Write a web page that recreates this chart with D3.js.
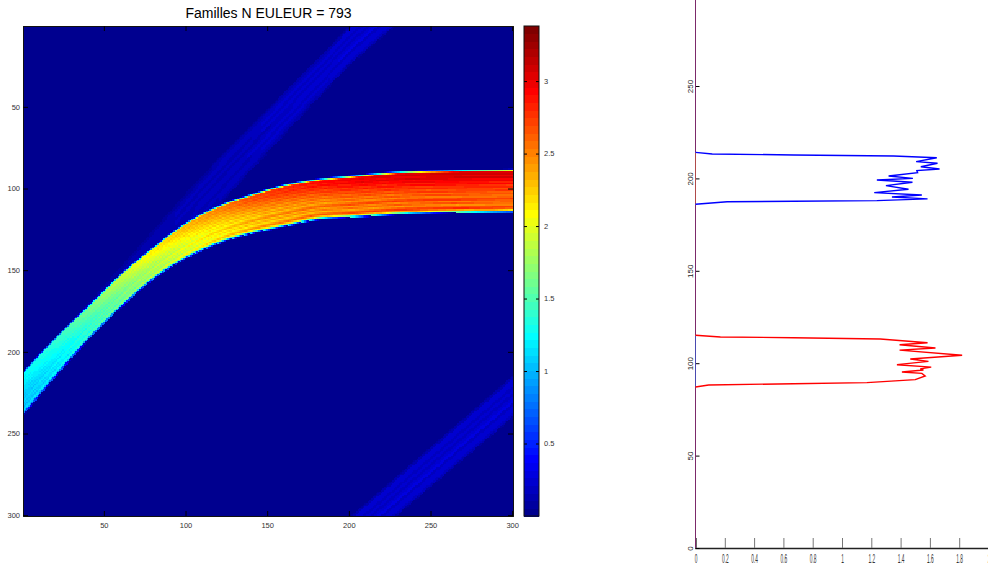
<!DOCTYPE html>
<html><head><meta charset="utf-8">
<script src="https://cdn.jsdelivr.net/npm/d3@7"></script>
<style>html,body{margin:0;padding:0;background:#fff}svg{display:block}text{font-family:"Liberation Sans",Arial,sans-serif}</style>
</head><body><svg id="c" width="988" height="567"></svg>
<script>
const titleText = "Familles N EULEUR = 793";
const imageTicks = [50,100,150,200,250,300];
const barTicks = [0.5,1,1.5,2,2.5,3];
const valueMax = 3.38;
// main band edges (image row) by column
const bandColumns = [1,19,39.5,60,80,100,120,140,160,180,200,230,265,300];
const bandTop     = [212,192.8,173,153,136.4,121.5,111,104,98.3,94.7,92.7,90.2,89.2,88.7];
const bandBottom  = [237.5,216,192.8,172.4,155,142.2,133,127,122.7,118.5,117.2,115.2,114.2,113.6];
// level along main band
const levelColumns = [1,25,50,75,100,125,150,200,250,300];
const levelValues  = [1.25,1.45,1.78,2.1,2.35,2.58,2.78,3.0,3.1,3.1];
// profile across main band, from top edge to bottom edge
const bandProfile = [0.92,0.98,1.0,0.96,1.0,0.94,0.97,0.91,0.95,0.88,0.92,0.85,0.9,0.82,0.88,0.8,0.86,0.9,0.8,0.87,0.78,0.85,0.91,0.76,0.84];
// faint diagonal bands: edge rows by column
const upperColumns = [1,42,69,108,135,200,227];
const upperEdgeA = [240,198,168,124,94,24,1];
const upperEdgeB = [214,168,138,94,67,1,-26];
const lowerColumns = [202,229,300];
const lowerEdgeA = [300,276.6,215];
const lowerEdgeB = [323,300,240];
const faintLevelColumns = [42,120,200,300];
const faintLevelValues = [0.4,0.72,1,1];
const faintProfile = [0.15,0.22,0.26,0.2,0.26,0.19,0.24,0.27,0.2,0.26,0.22,0.17];
// right panel series: [value, row]
const blueSeries = [[0,186],[0.216,187.4],[0.67,187.6],[1.238,188],[1.584,188.9],[1.341,189.9],[1.545,191],[1.22,192.3],[1.454,194.1],[1.3,196.1],[1.481,197.9],[1.238,199.1],[1.484,200],[1.318,201.3],[1.516,203.1],[1.511,204.2],[1.666,205.1],[1.538,206.3],[1.652,208.2],[1.506,209.1],[1.647,211.2],[1.352,212.1],[0.67,212.7],[0.114,213.2],[0,214.1]];
const redSeries = [[0,87.1],[0.09,88.2],[0.67,88.9],[1.17,89.5],[1.5,91.1],[1.568,93.1],[1.545,94.5],[1.409,95.2],[1.556,96.3],[1.534,96.9],[1.609,97.9],[1.375,99.2],[1.59,101],[1.466,102.3],[1.82,104.3],[1.393,107.1],[1.638,108.2],[1.393,110],[1.584,111.1],[1.261,113.1],[0.67,113.8],[0.17,114.2],[0,115.1]];
const zeroRuns = [[0,87.1,"#7c2a6a"],[87.1,115.1,"#4a4ab0"],[115.1,186,"#7c2a6a"],[186,214.1,"#b04a4a"],[214.1,300,"#7c2a6a"]];
const panelXTicks = [0,0.2,0.4,0.6,0.8,1,1.2,1.4,1.6,1.8,2];
const panelYTicks = [0,50,100,150,200,250];

const svg = d3.select("#c");
const jet = t => {
  const c = v => Math.round(255*Math.max(0,Math.min(1,v)));
  const r = 1.5-Math.abs(4*t-3), g = 1.5-Math.abs(4*t-2), b = 1.5-Math.abs(4*t-1);
  return `rgb(${c(r)},${c(g)},${c(b)})`;
};
const quant = v => { const i = Math.min(63,Math.max(0,Math.floor(v/valueMax*64))); return jet((i+1)/64); };
// smooth curve through read stations
const smooth = (xs,ys) => {
  const n=xs.length, m=xs.map((_,i)=> i==0 ? (ys[1]-ys[0])/(xs[1]-xs[0]) : i==n-1 ? (ys[n-1]-ys[n-2])/(xs[n-1]-xs[n-2]) : (ys[i+1]-ys[i-1])/(xs[i+1]-xs[i-1]));
  return q => {
    const i=Math.max(0,Math.min(n-2,d3.bisectRight(xs,q)-1)), h=xs[i+1]-xs[i], s=(q-xs[i])/h;
    const s2=s*s,s3=s2*s;
    return (2*s3-3*s2+1)*ys[i]+(s3-2*s2+s)*h*m[i]+(-2*s3+3*s2)*ys[i+1]+(s3-s2)*h*m[i+1];
  };
};
const clamp01 = v => Math.max(0,Math.min(1,v));

// heat map
const plot = {l:23,t:26,w:490,h:490};
const x = d3.scaleLinear().domain([0.5,300.5]).range([plot.l,plot.l+plot.w]);
const y = d3.scaleLinear().domain([0.5,300.5]).range([plot.t,plot.t+plot.h]);
const topAt = smooth(bandColumns,bandTop);
const botAt = smooth(bandColumns,bandBottom);
const levelAt = smooth(levelColumns,levelValues);
const profileAt = d3.scaleLinear().domain(bandProfile.map((_,i)=>i/(bandProfile.length-1))).range(bandProfile);
const faintAt = d3.scaleQuantize().domain([0,1]).range(faintProfile);
const faintLevel = d3.scaleLinear().domain(faintLevelColumns).range(faintLevelValues).clamp(true);
const upA = d3.scaleLinear().domain(upperColumns).range(upperEdgeA);
const upB = d3.scaleLinear().domain(upperColumns).range(upperEdgeB);
const loA = d3.scaleLinear().domain(lowerColumns).range(lowerEdgeA);
const loB = d3.scaleLinear().domain(lowerColumns).range(lowerEdgeB);

const cells = [];
const faint = (c,r,a,b) => {
  const cov = clamp01(r-a+0.5)*clamp01(b-r+0.5);
  return cov>0 ? faintAt(Math.min(0.999,Math.max(0,(r-a)/(b-a))))*faintLevel(c)*cov : 0;
};
for(let c=1;c<=300;c++){
  const t=topAt(c), b=botAt(c), lev=levelAt(c);
  const rows = new Map();
  if(c<=227){ const a=upB(c), e=upA(c);
    for(let r=Math.max(1,Math.floor(a));r<=Math.min(Math.ceil(t),Math.ceil(e));r++){ const v=faint(c,r,a,e); if(v>0) rows.set(r,v);} }
  if(c>=202){ const a=loA(c), e=loB(c);
    for(let r=Math.floor(a);r<=Math.min(300,Math.ceil(e));r++){ const v=faint(c,r,a,e); if(v>0) rows.set(r,v);} }
  for(let r=Math.floor(t)-1;r<=Math.ceil(b)+1;r++){
    const cov=clamp01((r-t+0.8)/1.6)*clamp01((b-r+0.8)/1.6); if(cov<=0) continue;
    const u=clamp01((r-t)/(b-t));
    const v=lev*profileAt(u)*cov;
    rows.set(r,Math.max(v,rows.get(r)||0));
  }
  rows.forEach((v,r)=>cells.push({c,r,v}));
}
const pw = x(2)-x(1), ph = y(2)-y(1);
const defs = svg.append("defs");
defs.append("clipPath").attr("id","plotClip").append("rect").attr("x",plot.l).attr("y",plot.t).attr("width",plot.w).attr("height",plot.h);
defs.append("filter").attr("id","soft").attr("x","-2%").attr("y","-2%").attr("width","104%").attr("height","104%")
  .append("feGaussianBlur").attr("stdDeviation",0.55);
const clipG = svg.append("g").attr("clip-path","url(#plotClip)");
clipG.append("rect").attr("x",plot.l).attr("y",plot.t).attr("width",plot.w).attr("height",plot.h).attr("fill",quant(0));
const heat = clipG.append("g").attr("filter","url(#soft)");
heat.append("g").attr("shape-rendering","crispEdges").selectAll("rect").data(cells).join("rect")
  .attr("x",d=>x(d.c-0.5)).attr("y",d=>y(d.r-0.5)).attr("width",pw+0.5).attr("height",ph+0.5).attr("fill",d=>quant(d.v));

const tickStyle = g => g.selectAll("text").attr("fill","#333").attr("font-size",7.5);
const gx = svg.append("g").attr("transform",`translate(0,${plot.t+plot.h})`).call(d3.axisBottom(x).tickValues(imageTicks).tickSize(-5).tickPadding(7));
const gy = svg.append("g").attr("transform",`translate(${plot.l},0)`).call(d3.axisLeft(y).tickValues(imageTicks).tickSize(-5).tickPadding(3));
const gxT = svg.append("g").attr("transform",`translate(0,${plot.t})`).call(d3.axisTop(x).tickValues(imageTicks).tickSize(-5).tickFormat(""));
const gyR = svg.append("g").attr("transform",`translate(${plot.l+plot.w},0)`).call(d3.axisRight(y).tickValues(imageTicks).tickSize(-5).tickFormat(""));
[gx,gy,gxT,gyR].forEach(g=>{g.call(tickStyle);g.selectAll("path").attr("stroke","#111").attr("stroke-width",1);g.selectAll("line").attr("stroke","#000");});
svg.append("text").attr("x",268.5).attr("y",18).attr("text-anchor","middle").attr("font-size",14).attr("fill","#000").text(titleText);

// colour bar
const bar = {l:524,w:15};
const cy = d3.scaleLinear().domain([0,valueMax]).range([plot.t+plot.h,plot.t]);
const levels = d3.range(64);
svg.append("g").attr("shape-rendering","crispEdges").selectAll("rect").data(levels).join("rect")
  .attr("x",bar.l).attr("width",bar.w)
  .attr("y",i=>cy((i+1)*valueMax/64)).attr("height",i=>cy(i*valueMax/64)-cy((i+1)*valueMax/64)+0.5)
  .attr("fill",i=>jet((i+1)/64));
const gb = svg.append("g").attr("transform",`translate(${bar.l+bar.w},0)`).call(d3.axisRight(cy).tickValues(barTicks).tickFormat(d3.format("")).tickSize(-3).tickPadding(5));
gb.call(tickStyle); gb.select("path").remove(); gb.selectAll("line").attr("stroke","#000");
const gbL = svg.append("g").attr("transform",`translate(${bar.l},0)`).call(d3.axisLeft(cy).tickValues(barTicks).tickFormat("").tickSize(-3));
gbL.select("path").remove(); gbL.selectAll("line").attr("stroke","#000");
svg.append("rect").attr("x",bar.l).attr("y",plot.t).attr("width",bar.w).attr("height",plot.h).attr("fill","none").attr("stroke","#111");

// right panel
const px = d3.scaleLinear().domain([0,2]).range([695.5,988.5]);
const py = d3.scaleLinear().domain([0,250]).range([548,86]);
const line = d3.line().x(d=>px(d[0])).y(d=>py(d[1]));
const gpx = svg.append("g").attr("transform","translate(0,548)").call(d3.axisBottom(px).tickValues(panelXTicks).tickFormat(d3.format("")).tickSize(-10).tickPadding(0));
gpx.select("path").attr("stroke","#222").attr("stroke-width",1.4);
gpx.selectAll("line").attr("stroke","#777");
gpx.selectAll("text").attr("fill","#333").attr("font-size",8).attr("text-anchor","middle").attr("dy",0).attr("y",0)
  .attr("transform","translate(0,14.5) scale(0.6,1.5)");
const gpy = svg.append("g").attr("transform","translate(695.5,0)").call(d3.axisLeft(py).tickValues(panelYTicks).tickFormat(d3.format("")).tickSize(-4).tickPadding(0));
gpy.select("path").remove();
gpy.selectAll("line").attr("stroke","#000");
gpy.selectAll("text").attr("fill","#222").attr("font-size",8).attr("x",0).attr("dy",0).attr("text-anchor","middle")
  .attr("transform","translate(-3,0) rotate(-90) scale(1,0.85)");
svg.append("g").selectAll("path").data(zeroRuns).join("path").attr("fill","none").attr("stroke",d=>d[2]).attr("stroke-width",1)
  .attr("d",d=>line([[0,d[0]],[0,d[1]]]));
svg.append("path").datum(redSeries).attr("fill","none").attr("stroke","#f00").attr("stroke-width",1.4).attr("d",line);
svg.append("path").datum(blueSeries).attr("fill","none").attr("stroke","#00f").attr("stroke-width",1.4).attr("d",line);
</script></body></html>
